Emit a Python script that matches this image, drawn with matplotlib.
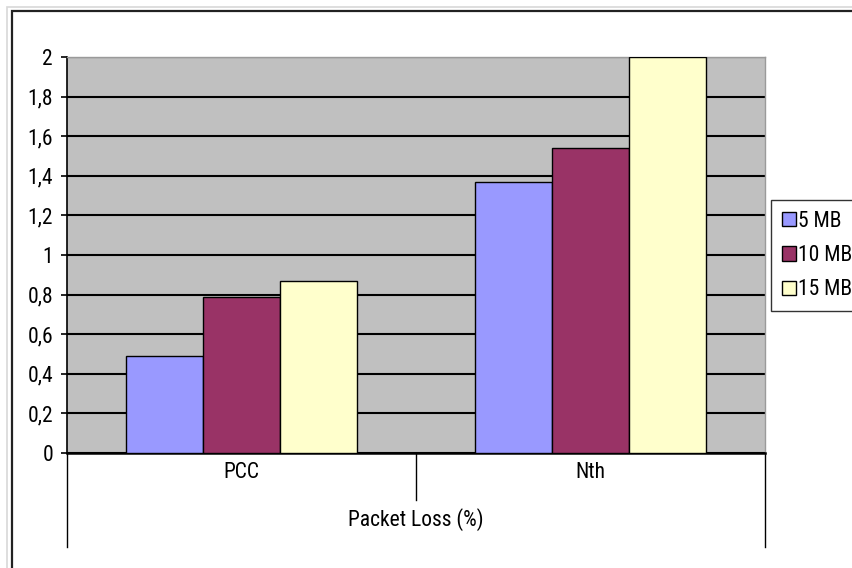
import matplotlib
matplotlib.use("Agg")
import matplotlib.pyplot as plt
from matplotlib.patches import Rectangle
from matplotlib.transforms import blended_transform_factory
import numpy as np

categories = ["PCC", "Nth"]
series_names = ["5 MB", "10 MB", "15 MB"]
values_5mb = [0.49, 1.37]
values_10mb = [0.79, 1.54]
values_15mb = [0.87, 2.0]
y_ticks = [0, 0.2, 0.4, 0.6, 0.8, 1.0, 1.2, 1.4, 1.6, 1.8, 2.0]
y_tick_labels = ["0", "0,2", "0,4", "0,6", "0,8", "1", "1,2", "1,4", "1,6", "1,8", "2"]
x_title = "Packet Loss (%)"

colors = ["#9999FF", "#993366", "#FFFFCC"]

plt.rcParams["font.family"] = ["Roboto Condensed", "Archivo Narrow", "Liberation Sans", "DejaVu Sans"]
FS = 15.5

W, H = 852, 568
fig = plt.figure(figsize=(W / 100, H / 100), dpi=100)
fig.patch.set_facecolor("white")

# outer chart border
fig.patches.append(Rectangle((7 / W, -0.1), 1.2, (H - 7) / H + 0.1, transform=fig.transFigure,
                             fill=False, edgecolor="#d8d8d8", linewidth=1.2))
fig.patches.append(Rectangle((12 / W, -0.1), 1.2, (H - 11) / H + 0.1, transform=fig.transFigure,
                             fill=False, edgecolor="#222222", linewidth=1.6))

left, right, top, bottom = 67, 765, 57, 453
ax = fig.add_axes([left / W, (H - bottom) / H, (right - left) / W, (bottom - top) / H])
ax.set_facecolor("#C0C0C0")

x = np.arange(len(categories))
bw = 77 / 349
series = [values_5mb, values_10mb, values_15mb]
for i, (vals, name, c) in enumerate(zip(series, series_names, colors)):
    ax.bar(x + (i - 1) * bw, vals, width=bw, color=c, edgecolor="black",
           linewidth=1.0, label=name, zorder=3)

ax.set_xlim(-0.5, 1.5)
ax.set_ylim(0, 2)
ax.set_yticks(y_ticks)
ax.set_yticklabels(y_tick_labels, fontsize=FS)
ax.yaxis.grid(True, color="black", linewidth=1.5, zorder=1)
ax.set_axisbelow(True)
ax.tick_params(axis="y", length=4, width=1.2, pad=6)
ax.set_xticks([])

for s in ["top", "right"]:
    ax.spines[s].set_color("#9a9a9a")
    ax.spines[s].set_linewidth(1.0)
ax.spines["left"].set_color("black")
ax.spines["left"].set_linewidth(1.2)
ax.spines["bottom"].set_color("black")
ax.spines["bottom"].set_linewidth(1.8)

trans = blended_transform_factory(ax.transData, ax.transAxes)
ax_h = bottom - top
outer_drop = -(547 - bottom) / ax_h
mid_drop = -(500 - bottom) / ax_h
for xp, yd in [(-0.5, outer_drop), (0.5, mid_drop), (1.5, outer_drop)]:
    ax.plot([xp, xp], [0, yd], transform=trans, color="black", linewidth=1.0, clip_on=False)

for xi, cat in zip(x, categories):
    ax.text(xi, -(473 - bottom) / ax_h, cat, transform=trans, ha="center", va="center", fontsize=FS)
ax.text(0.5, -(520 - bottom) / ax_h, x_title, transform=trans, ha="center", va="center", fontsize=FS)

leg = fig.legend(loc="upper left", bbox_to_anchor=(771 / W, 1 - 200 / H),
                 fontsize=FS, frameon=True, fancybox=False, edgecolor="black",
                 handlelength=0.65, handleheight=0.65, handletextpad=0.12,
                 labelspacing=0.62, borderpad=0.5, borderaxespad=0)
leg.get_frame().set_linewidth(1.0)

fig.savefig("out.png", dpi=100)
